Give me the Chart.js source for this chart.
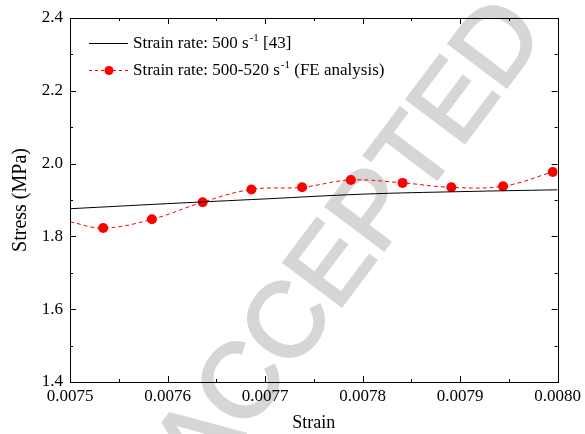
<!DOCTYPE html>
<html>
<head>
<meta charset="utf-8">
<script src="https://cdn.jsdelivr.net/npm/chart.js@4.4.0/dist/chart.umd.min.js"></script>
<style>
  html, body { margin: 0; padding: 0; background: #fff; }
  #wrap { width: 585px; height: 434px; }
</style>
</head>
<body>
<div id="wrap"><canvas id="stressChart" width="585" height="434"></canvas></div>
<script>
// measured curve (reference [43])
const refStrain = [0.0075, 0.0076, 0.0077, 0.0078, 0.0079, 0.0080];
const refStress = [1.876, 1.890, 1.903, 1.916, 1.923, 1.928];

// FE analysis results; first entry only anchors the curve at the axis
const feStrain = [0.0075, 0.007534, 0.007584, 0.007636, 0.007686, 0.007738, 0.007788, 0.007841, 0.007891, 0.007944, 0.007995];
const feStress = [1.840, 1.823, 1.847, 1.894, 1.929, 1.935, 1.955, 1.947, 1.935, 1.938, 1.977];
const feMarker = [0, 5, 5, 5, 5, 5, 5, 5, 5, 5, 5];

const xTicks = [0.0075, 0.0076, 0.0077, 0.0078, 0.0079, 0.0080];
const yTicks = [1.4, 1.6, 1.8, 2.0, 2.2, 2.4];

const serif = '"Liberation Serif", "Times New Roman", serif';

const toPoints = (xs, ys) => xs.map((x, i) => ({ x: x, y: ys[i] }));

// faint diagonal stamp behind everything
const stampPlugin = {
  id: 'stamp',
  beforeDraw(chart) {
    const ctx = chart.ctx;
    ctx.save();
    ctx.translate(352, 244);
    ctx.rotate(-53 * Math.PI / 180);
    ctx.font = '105px "Liberation Sans", Arial, sans-serif';
    ctx.textAlign = 'center';
    ctx.textBaseline = 'middle';
    ctx.fillStyle = '#d6d6d6';
    ctx.strokeStyle = '#d6d6d6';
    ctx.lineWidth = 3;
    ctx.fillText('ACCEPTED', 0, 0);
    ctx.strokeText('ACCEPTED', 0, 0);
    ctx.restore();
  }
};

// box around the plot with inward major/minor ticks on all four sides
const framePlugin = {
  id: 'frame',
  afterDraw(chart) {
    const { ctx, chartArea: a, scales } = chart;
    const sx = scales.x, sy = scales.y;
    ctx.save();
    ctx.strokeStyle = '#000';
    ctx.lineWidth = 1;
    ctx.strokeRect(Math.round(a.left) + 0.5, Math.round(a.top) + 0.5,
      Math.round(a.right - a.left), Math.round(a.bottom - a.top));
    ctx.beginPath();
    const xStep = xTicks[1] - xTicks[0];
    for (let i = 0; i < xTicks.length * 2 - 1; i++) {
      const v = xTicks[0] + i * xStep / 2;
      const px = Math.round(sx.getPixelForValue(v)) + 0.5;
      const len = i % 2 === 0 ? 6 : 3;
      ctx.moveTo(px, a.bottom); ctx.lineTo(px, a.bottom - len);
      ctx.moveTo(px, a.top); ctx.lineTo(px, a.top + len);
    }
    const yStep = yTicks[1] - yTicks[0];
    for (let i = 0; i < yTicks.length * 2 - 1; i++) {
      const v = yTicks[0] + i * yStep / 2;
      const py = Math.round(sy.getPixelForValue(v)) + 0.5;
      const len = i % 2 === 0 ? 6 : 3;
      ctx.moveTo(a.left, py); ctx.lineTo(a.left + len, py);
      ctx.moveTo(a.right, py); ctx.lineTo(a.right - len, py);
    }
    ctx.stroke();
    ctx.restore();
  }
};

// legend with superscript units
const legendRows = [
  { main: 'Strain rate: 500 s', sup: '-1', tail: ' [43]', color: '#000', dash: [], dot: false },
  { main: 'Strain rate: 500-520 s', sup: '-1', tail: ' (FE analysis)', color: '#ff0000', dash: [3, 3], dot: true }
];

const legendPlugin = {
  id: 'supLegend',
  afterDraw(chart) {
    const { ctx, chartArea: a } = chart;
    ctx.save();
    legendRows.forEach((row, i) => {
      const y = a.top + 25 + i * 27;
      const x0 = a.left + 19;
      ctx.strokeStyle = row.color;
      ctx.lineWidth = 1;
      ctx.setLineDash(row.dash);
      ctx.beginPath();
      ctx.moveTo(x0, y + 0.5);
      ctx.lineTo(x0 + 39, y + 0.5);
      ctx.stroke();
      ctx.setLineDash([]);
      if (row.dot) {
        ctx.fillStyle = row.color;
        ctx.beginPath();
        ctx.arc(x0 + 20, y + 0.5, 4.5, 0, Math.PI * 2);
        ctx.fill();
      }
      ctx.fillStyle = '#000';
      ctx.textBaseline = 'middle';
      ctx.textAlign = 'left';
      let tx = x0 + 44;
      ctx.font = '17px ' + serif;
      ctx.fillText(row.main, tx, y + 1);
      tx += ctx.measureText(row.main).width + 1;
      ctx.font = '11px ' + serif;
      ctx.fillText(row.sup, tx, y - 5);
      tx += ctx.measureText(row.sup).width;
      ctx.font = '17px ' + serif;
      ctx.fillText(row.tail, tx, y + 1);
    });
    ctx.restore();
  }
};

new Chart(document.getElementById('stressChart'), {
  type: 'line',
  data: {
    datasets: [
      {
        label: 'Strain rate: 500 s-1 [43]',
        data: toPoints(refStrain, refStress),
        borderColor: '#000',
        borderWidth: 1,
        pointRadius: 0,
        tension: 0.4,
        fill: false
      },
      {
        label: 'Strain rate: 500-520 s-1 (FE analysis)',
        data: toPoints(feStrain, feStress),
        borderColor: '#ff0000',
        backgroundColor: '#ff0000',
        borderWidth: 1,
        borderDash: [4, 3],
        pointRadius: feMarker,
        pointBorderWidth: 0,
        pointBackgroundColor: '#ff0000',
        tension: 0.4,
        fill: false
      }
    ]
  },
  options: {
    responsive: false,
    animation: false,
    devicePixelRatio: 1,
    layout: { padding: { left: 0, top: 18, right: 24, bottom: 0 } },
    plugins: {
      legend: { display: false },
      tooltip: { enabled: false }
    },
    scales: {
      x: {
        type: 'linear',
        min: 0.0075,
        max: 0.0080,
        border: { display: false },
        grid: { display: false, drawTicks: false },
        afterBuildTicks: (scale) => { scale.ticks = xTicks.map(v => ({ value: v })); },
        afterFit: (scale) => { scale.height = 52; },
        ticks: {
          padding: 4,
          color: '#000',
          font: { family: serif, size: 17 },
          maxRotation: 0,
          callback: (v) => v.toFixed(4)
        },
        title: {
          display: true,
          text: 'Strain',
          color: '#000',
          font: { family: serif, size: 18 },
          padding: 0
        }
      },
      y: {
        min: 1.4,
        max: 2.4,
        border: { display: false },
        grid: { display: false, drawTicks: false },
        afterBuildTicks: (scale) => { scale.ticks = yTicks.map(v => ({ value: v })); },
        afterFit: (scale) => { scale.width = 70; },
        ticks: {
          padding: 7,
          color: '#000',
          font: { family: serif, size: 17 },
          callback: (v) => v.toFixed(1)
        },
        title: {
          display: true,
          text: 'Stress (MPa)',
          color: '#000',
          font: { family: serif, size: 20 },
          padding: { top: 9, bottom: 0 }
        }
      }
    }
  },
  plugins: [stampPlugin, framePlugin, legendPlugin]
});
</script>
</body>
</html>
